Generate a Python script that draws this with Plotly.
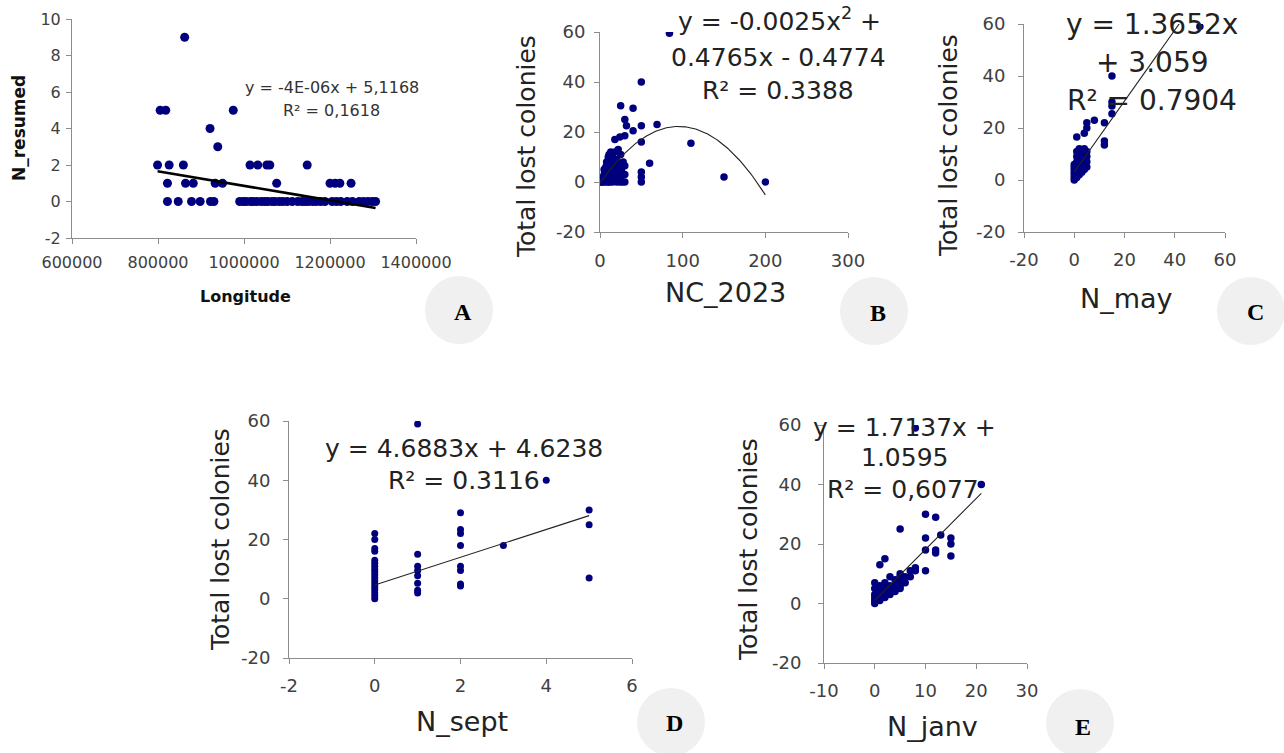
import numpy as np
import plotly.graph_objects as go

W, H = 1284, 753

# ---------------- data ----------------
# Panel A : N_resumed vs Longitude
A_longitude = [862000, 805000, 818000, 975000, 921000, 939000,
               799000, 826000, 859000, 1014000, 1032000, 1053000, 1060000, 1147000,
               822000, 864000, 882000, 933000, 950000, 1076000, 1200000, 1212000, 1223000, 1249000,
               822000, 847000, 878000, 898000, 922000, 930000,
               990000, 998000, 1005000, 1015000, 1022000, 1030000, 1040000, 1048000, 1055000,
               1065000, 1072000, 1082000, 1090000, 1100000, 1112000, 1125000, 1135000, 1142000,
               1150000, 1160000, 1168000, 1178000, 1188000, 1205000, 1215000, 1225000, 1240000,
               1252000, 1268000, 1278000, 1288000, 1298000, 1306000]
A_n_resumed = [9, 5, 5, 5, 4, 3,
               2, 2, 2, 2, 2, 2, 2, 2,
               1, 1, 1, 1, 1, 1, 1, 1, 1, 1,
               0, 0, 0, 0, 0, 0,
               0, 0, 0, 0, 0, 0, 0, 0, 0,
               0, 0, 0, 0, 0, 0, 0, 0, 0,
               0, 0, 0, 0, 0, 0, 0, 0, 0,
               0, 0, 0, 0, 0, 0]
A_trend = [-3.98e-6, 4.84]
A_xticks = [600000, 800000, 1000000, 1200000, 1400000]
A_yticks = [-2, 0, 2, 4, 6, 8, 10]

# Panel B : Total lost colonies vs NC_2023
B_nc2023 = [84, 50, 25, 40, 30, 32, 50, 69, 40, 18, 24, 30, 50, 110, 60, 50, 50, 50, 150, 200,
            30, 30, 30,
            0, 1, 2, 3, 4, 5, 5, 5, 6, 6, 7, 7, 8, 8, 8, 9, 10, 10, 10, 10, 10, 11, 11, 12, 12, 12,
            13, 13, 14, 14, 15, 15, 15, 16, 17, 18, 18, 19, 20, 20, 20, 21, 22, 23, 24, 24, 25, 25,
            26, 27, 28]
B_lost = [59.5, 40, 30.5, 29.5, 25, 22.5, 22.5, 23, 20.5, 17, 18, 18.5, 16, 15.5, 7.5, 4, 2, 0, 2, 0,
          0, 3, 6.5,
          0, 0, 1, 0, 2, 0, 3, 5, 1, 4, 2, 6, 0, 3, 8, 5, 0, 2, 4, 7, 10, 3, 11, 0, 6, 9,
          2, 12, 5, 8, 0, 3, 10, 6, 1, 4, 12, 7, 0, 2, 9, 5, 13, 3, 0, 7, 11, 2,
          5, 0, 8]
B_trend = [-0.0025, 0.4765, -0.4774]
B_xticks = [0, 100, 200, 300]

# Panel C : Total lost colonies vs N_may
C_nmay = [50, 15, 15, 15, 15, 8, 5, 5, 4, 1, 12, 12, 12,
          0, 0, 0, 0, 0, 0, 0, 1, 1, 1, 1, 1, 1, 2, 2, 2, 2, 2, 2, 3, 3, 3, 3, 3,
          4, 4, 4, 4, 4, 5, 5, 5, 5]
C_lost = [59, 40, 30, 28.5, 25.5, 23, 22, 20, 18, 16.5, 22, 15, 13.5,
          0, 1, 2, 3, 4, 5, 6, 1, 3, 5, 7, 9, 11, 2, 4, 6, 8, 10, 12, 3, 5, 7, 9, 11,
          4, 6, 8, 10, 12, 5, 7, 9, 11]
C_trend = [1.3652, 3.059]
C_xticks = [-20, 0, 20, 40, 60]

# Panel D : Total lost colonies vs N_sept
D_nsept = [0] * 18 + [1] * 8 + [2] * 8 + [3, 4, 5, 5, 5]
D_lost = [0, 1, 2, 3, 4, 5, 6, 7, 8, 9, 10, 11, 12, 13, 16, 17, 20, 22,
          59, 15, 11, 9.5, 7.8, 5.2, 2.9, 1.9,
          29, 23.4, 22, 18, 11, 9.5, 5, 4.3,
          18, 40, 30, 25, 7]
D_trend = [4.6883, 4.6238]
D_xticks = [-2, 0, 2, 4, 6]

# Panel E : Total lost colonies vs N_janv
E_njanv = [8, 21, 10, 12, 5, 13, 10, 15, 15, 10, 12, 12, 15, 2, 1, 10, 7, 8,
           0, 0, 0, 0, 0, 0, 1, 1, 1, 1, 1, 2, 2, 2, 2, 2, 3, 3, 3, 3, 3, 4, 4, 4, 4,
           5, 5, 5, 5, 5, 6, 6, 7, 8]
E_lost = [59, 40, 30, 29, 25, 23, 22, 22, 20, 18, 18, 17, 16, 15, 13, 11, 11, 12,
          0, 1, 2, 3, 5, 7, 1, 2, 3, 4, 6, 2, 3, 4, 5, 7, 3, 4, 5, 6, 9, 4, 5, 6, 8,
          5, 6, 7, 9, 10, 7, 9, 9, 11]
E_trend = [1.7137, 1.0595]
E_xticks = [-10, 0, 10, 20, 30]

LOST_YTICKS = [-20, 0, 20, 40, 60]

# ---------------- figure ----------------
FONT = "DejaVu Sans"
AXIS_COL = "#8c8c8c"
TICK_COL = "#404040"
TXT_COL = "#222222"
DOT = "#00007f"


def fx(p):
    return p / W


def fy(p):
    return 1 - p / H


panels = [
    dict(x=A_longitude, y=A_n_resumed, coef=A_trend, xd=(72, 416), yd=(19, 238),
         xt=A_xticks, yt=A_yticks, msize=9, lw=2.6, lc="#000000",
         tf=16, xstand=5, ystand=2),
    dict(x=B_nc2023, y=B_lost, coef=B_trend, xd=(600, 848), yd=(32, 232),
         xt=B_xticks, yt=LOST_YTICKS, msize=7.5, lw=1.1, lc="#222222",
         tf=18, xstand=7, ystand=5),
    dict(x=C_nmay, y=C_lost, coef=C_trend, xd=(1024, 1225), yd=(24, 232),
         xt=C_xticks, yt=LOST_YTICKS, msize=7.5, lw=1.1, lc="#222222",
         tf=18, xstand=6, ystand=9),
    dict(x=D_nsept, y=D_lost, coef=D_trend, xd=(289, 632), yd=(421, 658),
         xt=D_xticks, yt=LOST_YTICKS, msize=7, lw=1.1, lc="#222222",
         tf=18, xstand=6, ystand=9),
    dict(x=E_njanv, y=E_lost, coef=E_trend, xd=(824, 1027), yd=(425, 663),
         xt=E_xticks, yt=LOST_YTICKS, msize=7.5, lw=1.1, lc="#222222",
         tf=18, xstand=6, ystand=13),
]

fig = go.Figure()
layout = {}
for i, p in enumerate(panels, start=1):
    xa = "x" if i == 1 else f"x{i}"
    ya = "y" if i == 1 else f"y{i}"
    fig.add_trace(go.Scatter(x=p["x"], y=p["y"], mode="markers", xaxis=xa, yaxis=ya,
                             marker=dict(color=DOT, size=p["msize"], line=dict(width=0)),
                             showlegend=False, hoverinfo="x+y"))
    xs = np.linspace(min(p["x"]), max(p["x"]), 200)
    ys = np.polyval(p["coef"], xs)
    fig.add_trace(go.Scatter(x=xs, y=ys, mode="lines", xaxis=xa, yaxis=ya,
                             line=dict(color=p["lc"], width=p["lw"]),
                             showlegend=False, hoverinfo="skip"))
    common = dict(showgrid=False, zeroline=False, showline=True, linecolor=AXIS_COL,
                  linewidth=1, ticks="outside", ticklen=5, tickcolor=AXIS_COL, tickwidth=1,
                  automargin=False, tickmode="array",
                  tickfont=dict(family=FONT, size=p["tf"], color=TICK_COL), fixedrange=True)
    layout["xaxis" if i == 1 else f"xaxis{i}"] = dict(
        domain=[fx(p["xd"][0]), fx(p["xd"][1])], range=[p["xt"][0], p["xt"][-1]],
        tickvals=p["xt"], ticktext=[str(v) for v in p["xt"]],
        anchor=ya, ticklabelstandoff=p["xstand"], **common)
    layout["yaxis" if i == 1 else f"yaxis{i}"] = dict(
        domain=[fy(p["yd"][1]), fy(p["yd"][0])], range=[p["yt"][0], p["yt"][-1]],
        tickvals=p["yt"], ticktext=[str(v) for v in p["yt"]],
        anchor=xa, ticklabelstandoff=p["ystand"], **common)

fig.update_layout(**layout)

annotations = []


def txt(text, x, y, size, color=TXT_COL, bold=False, angle=0, family=FONT):
    annotations.append(dict(text=f"<b>{text}</b>" if bold else text, x=fx(x), y=fy(y),
                            xref="paper", yref="paper", xanchor="center", yanchor="middle",
                            showarrow=False, textangle=angle,
                            font=dict(family=family, size=size, color=color)))


# axis titles
txt("Longitude", 245, 296, 16, color="#111111", bold=True)
txt("N_resumed", 19, 128, 17, color="#111111", bold=True, angle=-90)
txt("NC_2023", 725, 292, 27)
txt("Total lost colonies", 526, 147, 25, angle=-90)
txt("N_may", 1126, 298, 27)
txt("Total lost colonies", 948, 146, 25, angle=-90)
txt("N_sept", 462, 721, 27)
txt("Total lost colonies", 220, 540, 25, angle=-90)
txt("N_janv", 932, 726, 27)
txt("Total lost colonies", 748, 549, 25, angle=-90)

# equations
txt("y = -4E-06x + 5,1168", 332, 87, 16, color="#333333")
txt("R² = 0,1618", 332, 111, 16, color="#333333")
txt("y = -0.0025x<sup>2</sup> +", 779, 20, 25)
txt("0.4765x - 0.4774", 778, 57, 25)
txt("R² = 0.3388", 778, 90, 25)
txt("y = 1.3652x", 1152, 25, 28)
txt("+ 3.059", 1152, 62, 28)
txt("R² = 0.7904", 1152, 100, 28)
txt("y = 4.6883x + 4.6238", 464, 448, 25)
txt("R² = 0.3116", 464, 480, 25)
txt("y = 1.7137x +", 904, 427, 25)
txt("1.0595", 904, 457, 25)
txt("R² = 0,6077", 903, 489, 25)

# panel letters in grey discs
discs = [("A", 459, 310, 463, 312), ("B", 874, 311, 878, 313), ("C", 1251, 311, 1255, 312),
         ("D", 671, 722, 674, 723), ("E", 1080, 723, 1083, 727)]
shapes = []
R = 34
for lab, cx, cy, lx, ly in discs:
    shapes.append(dict(type="circle", xref="paper", yref="paper",
                       x0=fx(cx - R), x1=fx(cx + R), y0=fy(cy + R), y1=fy(cy - R),
                       fillcolor="#f0f0f0", line=dict(width=0), layer="below"))
    txt(lab, lx, ly, 24, color="#000000", bold=True, family="Liberation Serif")

fig.update_layout(width=W, height=H, margin=dict(l=0, r=0, t=0, b=0),
                  paper_bgcolor="white", plot_bgcolor="rgba(0,0,0,0)",
                  annotations=annotations, shapes=shapes, showlegend=False,
                  font=dict(family=FONT))

fig.write_html("out.html", config={"displayModeBar": False},
               post_script="document.body.style.margin='0';document.body.style.overflow='hidden';")
